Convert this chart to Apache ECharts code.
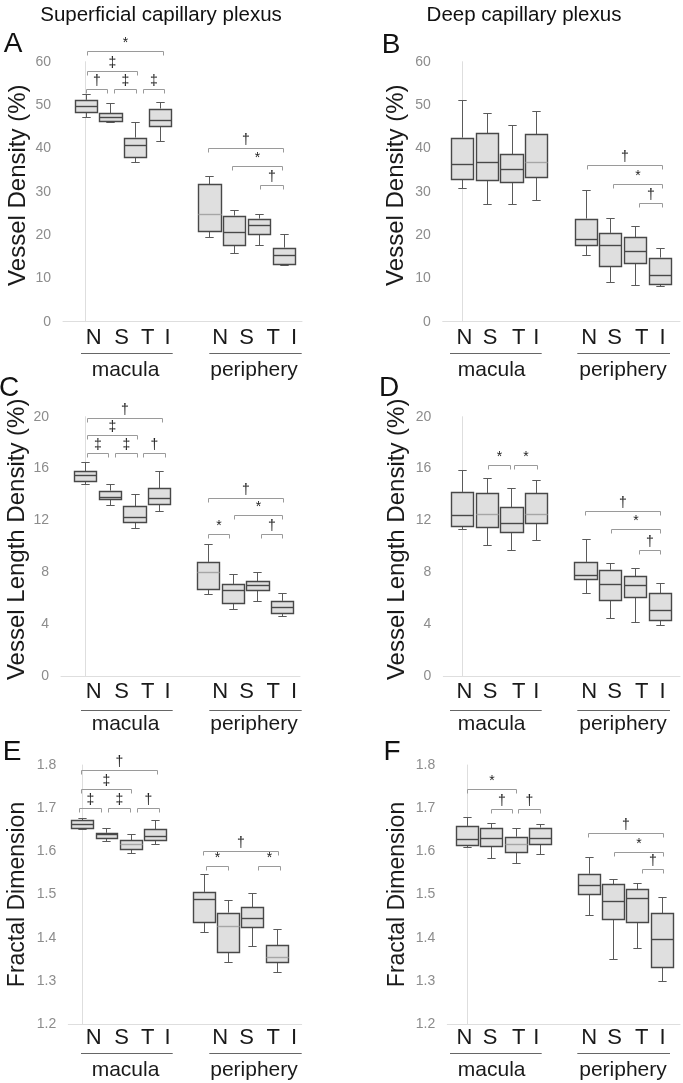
<!DOCTYPE html>
<html><head><meta charset="utf-8">
<script src="https://cdn.jsdelivr.net/npm/echarts@6/dist/echarts.min.js"></script>
<style>html,body{margin:0;padding:0;background:#fff}#c{width:683px;height:1083px}</style>
</head><body><div id="c"></div>
<script>
// ---------------- DATA ----------------
const categories = ['N', 'S', 'T', 'I'];
const groups = ['macula', 'periphery'];
const columnTitles = ['Superficial capillary plexus', 'Deep capillary plexus'];
const panelLetters = ['A', 'B', 'C', 'D', 'E', 'F'];
const yNames = ['Vessel Density (%)', 'Vessel Density (%)', 'Vessel Length Density (%)',
  'Vessel Length Density (%)', 'Fractal Dimension', 'Fractal Dimension'];
const yTicksVD = [0, 10, 20, 30, 40, 50, 60];
const yTicksVLD = [0, 4, 8, 12, 16, 20];
const yTicksFD = [1.2, 1.3, 1.4, 1.5, 1.6, 1.7, 1.8];
// box positions on the x scale: macula N S T I, gap, periphery N S T I
const boxPos = [0, 1, 2, 3, 5, 6, 7, 8];

// each box: [min, Q1, median, Q3, max]
const boxesA = [
  [47.3, 48.5, 49.8, 51.2, 52.5], [46.1, 46.3, 47.2, 48.1, 50.4], [36.8, 38.1, 40.7, 42.5, 46.2], [41.8, 45.2, 46.5, 49.2, 50.6],
  [19.6, 20.8, 24.8, 31.7, 33.7], [15.8, 17.8, 20.8, 24.5, 25.8], [17.8, 20.4, 22.3, 23.8, 24.8], [13.0, 13.5, 15.4, 17.1, 20.2]
];
const boxesB = [
  [30.8, 33.1, 36.3, 42.5, 51.2], [27.2, 32.6, 36.8, 43.5, 48.1], [27.1, 32.2, 35.3, 38.7, 45.4], [28.2, 33.3, 36.8, 43.3, 48.7],
  [15.4, 17.7, 19.0, 23.8, 30.4], [9.2, 13.0, 17.8, 20.5, 24.0], [8.4, 13.5, 16.3, 19.5, 22.2], [8.2, 8.8, 10.8, 14.8, 16.9]
];
const boxesC = [
  [14.8, 15.0, 15.5, 15.8, 16.5], [13.2, 13.7, 13.8, 14.3, 14.8], [11.4, 11.9, 12.3, 13.1, 14.0], [12.7, 13.3, 13.7, 14.5, 15.8],
  [6.3, 6.7, 8.0, 8.8, 10.15], [5.2, 5.6, 6.6, 7.1, 7.9], [5.8, 6.6, 7.0, 7.3, 8.0], [4.65, 4.9, 5.3, 5.8, 6.4]
];
const boxesD = [
  [11.3, 11.6, 12.4, 14.2, 15.9], [10.1, 11.5, 12.5, 14.1, 15.3], [9.7, 11.1, 11.8, 13.0, 14.5], [10.5, 11.8, 12.5, 14.1, 15.1],
  [6.4, 7.5, 7.8, 8.8, 10.6], [4.5, 5.9, 7.1, 8.2, 8.7], [4.2, 6.1, 7.0, 7.7, 8.3], [3.9, 4.3, 5.1, 6.4, 7.2]
];
const boxesE = [
  [1.652, 1.653, 1.663, 1.672, 1.678], [1.624, 1.632, 1.639, 1.643, 1.653], [1.596, 1.604, 1.616, 1.626, 1.639], [1.618, 1.626, 1.636, 1.651, 1.672],
  [1.413, 1.437, 1.490, 1.506, 1.547], [1.344, 1.368, 1.428, 1.458, 1.487], [1.380, 1.424, 1.445, 1.470, 1.503], [1.321, 1.343, 1.356, 1.383, 1.419]
];
const boxesF = [
  [1.609, 1.615, 1.628, 1.659, 1.680], [1.584, 1.611, 1.632, 1.653, 1.665], [1.572, 1.600, 1.616, 1.634, 1.655], [1.594, 1.619, 1.632, 1.655, 1.663],
  [1.452, 1.502, 1.523, 1.548, 1.588], [1.350, 1.443, 1.484, 1.524, 1.535], [1.376, 1.435, 1.491, 1.512, 1.526], [1.300, 1.333, 1.398, 1.457, 1.495]
];

// significance brackets: [from position, to position, level on y scale]
const bracketsA = [[0.04, 3.11, 62.5], [0.04, 2.08, 57.9], [0, 0.85, 53.8], [1.16, 2.02, 53.8], [2.3, 3.16, 53.8],
  [4.94, 7.96, 40.0], [5.92, 7.92, 36.0], [7.04, 7.96, 31.5]];
const symbolsA = ['*', '‡', '†', '‡', '‡', '†', '*', '†'];
const bracketsB = [[5.04, 8.08, 36.2], [6.09, 8.08, 31.8], [7.16, 8.08, 27.5]];
const symbolsB = ['†', '*', '†'];
const bracketsC = [[0.08, 3.12, 19.9], [0.08, 2.12, 18.6], [0.06, 0.93, 17.2], [1.2, 2.1, 17.2], [2.36, 3.25, 17.2],
  [4.98, 8.02, 13.7], [6.06, 7.99, 12.4], [7.14, 7.99, 10.95], [4.98, 5.83, 10.95]];
const symbolsC = ['†', '‡', '‡', '‡', '†', '†', '*', '†', '*'];
const bracketsD = [[1.04, 1.94, 16.3], [2.12, 3.02, 16.3], [4.98, 8.02, 12.75], [6.02, 8.02, 11.3], [7.17, 8.02, 9.7]];
const symbolsD = ['*', '*', '†', '*', '†'];
const bracketsE = [[-0.05, 3.08, 1.788], [-0.05, 2.0, 1.744], [-0.12, 0.79, 1.701], [1.07, 1.97, 1.701], [2.27, 3.15, 1.701],
  [4.98, 8.07, 1.601], [5.09, 6.0, 1.566], [7.25, 8.14, 1.566]];
const symbolsE = ['†', '‡', '‡', '‡', '†', '†', '*', '*'];
const bracketsF = [[-0.01, 2.0, 1.744], [0.97, 1.86, 1.697], [2.11, 3.0, 1.697], [4.98, 8.06, 1.643], [6.05, 8.06, 1.599], [7.17, 8.06, 1.558]];
const symbolsF = ['*', '†', '†', '†', '*', '†'];

// ---------------- LAYOUT / STYLE ----------------
const FONT = '"Liberation Sans", Arial, Helvetica, sans-serif';
const panels = [
  {boxes: boxesA, brackets: bracketsA, symbols: symbolsA, ticks: yTicksVD, dec: 0, light: [4],
   grid: {left: 63, top: 61.7, width: 239, height: 260}, x: [-0.917, 8.736], col: 0, row: 0,
   nameGap: 33, nameSize: 24, nameShift: 13, letter: [13, 44]},
  {boxes: boxesB, brackets: bracketsB, symbols: symbolsB, ticks: yTicksVD, dec: 0, light: [3],
   grid: {left: 442.7, top: 61.7, width: 237.3, height: 260}, x: [-0.79, 8.82], col: 1, row: 0,
   nameGap: 34, nameSize: 24, nameShift: 13, letter: [391, 45]},
  {boxes: boxesC, brackets: bracketsC, symbols: symbolsC, ticks: yTicksVLD, dec: 0, light: [4],
   grid: {left: 61, top: 416.7, width: 239, height: 259.3}, x: [-0.99, 8.73], col: 0, row: 1,
   nameGap: 31, nameSize: 24, nameShift: 14, letter: [9, 388]},
  {boxes: boxesD, brackets: bracketsD, symbols: symbolsD, ticks: yTicksVLD, dec: 0, light: [1, 3],
   grid: {left: 443.3, top: 416.7, width: 236.7, height: 259.3}, x: [-0.76, 8.82], col: 1, row: 1,
   nameGap: 34, nameSize: 24, nameShift: 14, letter: [389, 388]},
  {boxes: boxesE, brackets: bracketsE, symbols: symbolsE, ticks: yTicksFD, dec: 1, light: [2, 5, 7],
   grid: {left: 68.3, top: 765, width: 233.4, height: 259}, x: [-0.57, 9.03], col: 0, row: 2,
   nameGap: 39, nameSize: 23, nameShift: 0, letter: [12, 752]},
  {boxes: boxesF, brackets: bracketsF, symbols: symbolsF, ticks: yTicksFD, dec: 1, light: [2],
   grid: {left: 447.3, top: 765, width: 232.7, height: 259}, x: [-0.81, 8.75], col: 1, row: 2,
   nameGap: 38, nameSize: 23, nameShift: 0, letter: [392, 752]}
];
// category-label / group-label layout of each figure column (pixels)
const labelPx = [[93.7, 121.7, 147.7, 167.5, 220.3, 246.7, 273.3, 294], [464.5, 490, 518.7, 536.2, 589.2, 614.5, 641.7, 662.5]];
const underlinePx = [[[81, 172.7], [209.3, 301.7]], [[450, 541.7], [577.3, 670]]];
const groupCenterPx = [[125.5, 254], [491.7, 623]];
const rowGeom = [{line: 352.7, group: 370, margin: 5}, {line: 710, group: 724, margin: 5}, {line: 1052.7, group: 1070, margin: 3}];
const titlePos = [[161, 15], [524, 15]];

const crisp = v => Math.round(v) + 0.5;

const option = {animation: false, backgroundColor: '#fff', grid: [], xAxis: [], yAxis: [], series: [], graphic: []};

panels.forEach((p, i) => {
  const g = p.grid;
  option.grid.push({left: g.left, top: g.top, width: g.width, height: g.height, containLabel: false});
  const [x0, x1] = p.x;
  const lp = labelPx[p.col].map(px => x0 + (px - g.left) / g.width * (x1 - x0));
  option.xAxis.push({
    type: 'value', gridIndex: i, min: x0, max: x1,
    splitLine: {show: false}, axisTick: {show: false},
    axisLine: {show: true, onZero: false, lineStyle: {color: '#dedede', width: 1}},
    axisLabel: {
      customValues: lp, margin: rowGeom[p.row].margin, fontSize: 22, color: '#1a1a1a', fontFamily: FONT,
      formatter: v => {
        let bi = 0, bd = Infinity;
        lp.forEach((q, k) => { const d = Math.abs(q - v); if (d < bd) { bd = d; bi = k; } });
        return categories[bi % 4];
      }
    }
  });
  const t = p.ticks;
  option.yAxis.push({
    type: 'value', gridIndex: i, min: t[0], max: t[t.length - 1], interval: +(t[1] - t[0]).toFixed(6),
    name: yNames[i], nameLocation: 'middle', nameGap: p.nameGap,
    nameTextStyle: {fontSize: p.nameSize, color: '#1a1a1a', fontFamily: FONT, padding: [0, 0, 0, p.nameShift]},
    splitLine: {show: false}, axisTick: {show: false},
    axisLine: {show: true, lineStyle: {color: '#dedede', width: 1}},
    axisLabel: {fontSize: 14, color: '#8c8c8c', fontFamily: FONT, margin: 12,
      formatter: v => p.dec ? v.toFixed(p.dec) : String(Math.round(v))}
  });

  // box plots
  option.series.push({
    type: 'custom', xAxisIndex: i, yAxisIndex: i, clip: false, silent: true,
    data: p.boxes.map((b, k) => [boxPos[k]].concat(b)),
    encode: {x: 0, y: [1, 2, 3, 4, 5]},
    renderItem: (params, api) => {
      const xv = api.value(0);
      const lo = api.coord([xv, api.value(1)]);
      const q1 = api.coord([xv, api.value(2)]);
      const md = api.coord([xv, api.value(3)]);
      const q3 = api.coord([xv, api.value(4)]);
      const hi = api.coord([xv, api.value(5)]);
      const bw = api.size([0.9, 0])[0];
      const cw = api.size([0.34, 0])[0];
      const cx = crisp(lo[0]);
      const left = crisp(lo[0] - bw / 2), right = crisp(lo[0] + bw / 2);
      const wStyle = {stroke: '#5a5a5a', lineWidth: 1};
      const light = p.light.indexOf(params.dataIndex) >= 0;
      return {type: 'group', children: [
        {type: 'line', shape: {x1: cx, y1: crisp(hi[1]), x2: cx, y2: q3[1]}, style: wStyle},
        {type: 'line', shape: {x1: cx, y1: q1[1], x2: cx, y2: crisp(lo[1])}, style: wStyle},
        {type: 'line', shape: {x1: cx - cw / 2, y1: crisp(hi[1]), x2: cx + cw / 2, y2: crisp(hi[1])}, style: wStyle},
        {type: 'line', shape: {x1: cx - cw / 2, y1: crisp(lo[1]), x2: cx + cw / 2, y2: crisp(lo[1])}, style: wStyle},
        {type: 'rect', shape: {x: left, y: crisp(q3[1]), width: right - left, height: Math.max(1, Math.round(q1[1] - q3[1]))},
         style: {fill: '#dfdfdf', stroke: '#484848', lineWidth: 1.4}},
        {type: 'line', shape: {x1: left, y1: crisp(md[1]), x2: right, y2: crisp(md[1])},
         style: {stroke: light ? '#a6a6a6' : '#484848', lineWidth: 1.4}}
      ]};
    }
  });

  // significance brackets
  option.series.push({
    type: 'custom', xAxisIndex: i, yAxisIndex: i, clip: false, silent: true,
    data: p.brackets,
    encode: {x: [0, 1], y: 2},
    renderItem: (params, api) => {
      const a = api.coord([api.value(0), api.value(2)]);
      const b = api.coord([api.value(1), api.value(2)]);
      const y = crisp(a[1]);
      const x1 = crisp(a[0]), x2 = crisp(b[0]);
      return {type: 'group', children: [
        {type: 'polyline', shape: {points: [[x1, y + 4], [x1, y], [x2, y], [x2, y + 4]]},
         style: {stroke: '#9a9a9a', lineWidth: 1, fill: null}},
        {type: 'text', x: (x1 + x2) / 2, y: y - 1,
         style: {text: p.symbols[params.dataIndex], fontSize: 14, fontFamily: FONT, fill: '#222',
                 align: 'center', verticalAlign: 'bottom'}}
      ]};
    }
  });

  // panel letter
  option.graphic.push({type: 'text', x: p.letter[0], y: p.letter[1],
    style: {text: panelLetters[i], fontSize: 28, fontFamily: FONT, fill: '#111', align: 'center', verticalAlign: 'middle'}});
  // group underlines and names
  groups.forEach((gName, gi) => {
    const u = underlinePx[p.col][gi];
    const ly = crisp(rowGeom[p.row].line);
    option.graphic.push({type: 'line', shape: {x1: u[0], y1: ly, x2: u[1], y2: ly}, style: {stroke: '#666', lineWidth: 1}});
    option.graphic.push({type: 'text', x: groupCenterPx[p.col][gi], y: rowGeom[p.row].group,
      style: {text: gName, fontSize: 21, fontFamily: FONT, fill: '#1a1a1a', align: 'center', verticalAlign: 'middle'}});
  });
});

columnTitles.forEach((t, i) => {
  option.graphic.push({type: 'text', x: titlePos[i][0], y: titlePos[i][1],
    style: {text: t, fontSize: 20.5, fontFamily: FONT, fill: '#111', align: 'center', verticalAlign: 'middle'}});
});

const chart = echarts.init(document.getElementById('c'), null, {renderer: 'canvas'});
chart.setOption(option);
</script>
</body></html>
